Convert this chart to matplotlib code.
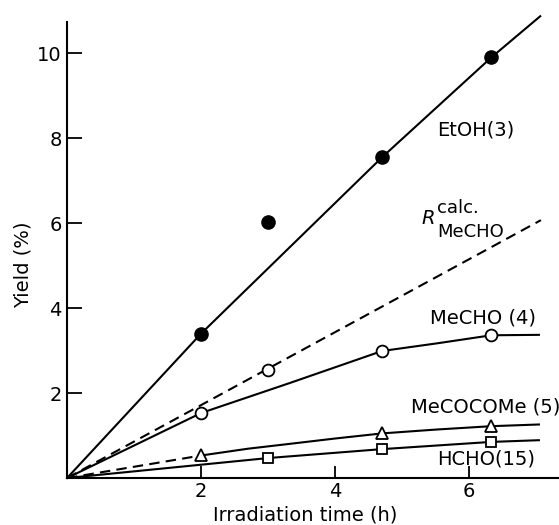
import matplotlib
matplotlib.use("Agg")
import matplotlib.pyplot as plt

# Measured points (irradiation time in h, yield in %)
etoh_x = [2.0, 3.0, 4.7, 6.33]
etoh_y = [3.4, 6.02, 7.55, 9.9]
mecho_x = [2.0, 3.0, 4.7, 6.33]
mecho_y = [1.53, 2.55, 2.99, 3.36]
mecocome_x = [2.0, 4.7, 6.33]
mecocome_y = [0.53, 1.06, 1.22]
hcho_x = [3.0, 4.7, 6.33]
hcho_y = [0.47, 0.68, 0.85]

# Hand-drawn curves
etoh_curve_x = [0, 2.0, 4.7, 6.33, 7.06]
etoh_curve_y = [0, 3.4, 7.55, 9.9, 10.87]
mecho_curve_x = [0, 2.0, 3.33, 4.7, 5.52, 6.33, 7.04]
mecho_curve_y = [0, 1.53, 2.24, 2.99, 3.17, 3.36, 3.37]
calc_x = [0, 7.07]
calc_y = [0, 6.07]
mecocome_dash_x = [0, 2.0]
mecocome_dash_y = [0, 0.53]
mecocome_curve_x = [2.0, 2.7, 3.3, 4.0, 4.7, 5.5, 6.33, 7.04]
mecocome_curve_y = [0.53, 0.69, 0.8, 0.93, 1.05, 1.14, 1.22, 1.26]
hcho_curve_x = [0, 3.0, 4.7, 6.33, 7.04]
hcho_curve_y = [0, 0.47, 0.68, 0.85, 0.89]

xticks = [2, 4, 6]
yticks = [2, 4, 6, 8, 10]

plt.rcParams['font.family'] = ['DejaVu Sans']

fig = plt.figure(figsize=(5.59, 5.25), dpi=100)
ax = fig.add_axes([0.12, 0.0895, 0.88, 0.882])

lw = 1.5
dash = (0, (5, 3))

# curves
ax.plot(etoh_curve_x, etoh_curve_y, color='black', lw=lw, clip_on=False)
ax.plot(mecho_curve_x, mecho_curve_y, color='black', lw=lw)
ax.plot(calc_x, calc_y, color='black', lw=lw, linestyle=dash)
ax.plot(mecocome_dash_x, mecocome_dash_y, color='black', lw=lw, linestyle=dash)
ax.plot(mecocome_curve_x, mecocome_curve_y, color='black', lw=lw)
ax.plot(hcho_curve_x, hcho_curve_y, color='black', lw=lw)

# markers
ax.plot(etoh_x, etoh_y, 'o', ms=9.5, color='black', zorder=5)
ax.plot(mecho_x, mecho_y, 'o', ms=8.5, mfc='white', mec='black', mew=1.3, zorder=5)
ax.plot(mecocome_x, mecocome_y, '^', ms=8.5, mfc='white', mec='black', mew=1.3, zorder=5)
ax.plot(hcho_x, hcho_y, 's', ms=7.5, mfc='white', mec='black', mew=1.3, zorder=5)

# labels on the curves
fs = 14
ax.text(5.52, 8.19, 'EtOH(3)', fontsize=fs, va='center', ha='left')
ax.text(5.39, 6.12, 'R', fontsize=fs, style='italic', va='center', ha='center')
ax.text(5.52, 6.35, 'calc.', fontsize=13, va='center', ha='left')
ax.text(5.52, 5.79, 'MeCHO', fontsize=13, va='center', ha='left')
ax.text(5.42, 3.76, 'MeCHO (4)', fontsize=fs, va='center', ha='left')
ax.text(5.13, 1.67, 'MeCOCOMe (5)', fontsize=fs, va='center', ha='left')
ax.text(5.52, 0.45, 'HCHO(15)', fontsize=fs, va='center', ha='left')

ax.set_xlim(0, 7.34)
ax.set_ylim(0, 10.9)
ax.set_xticks(xticks)
ax.set_yticks(yticks)

ax.spines['top'].set_visible(False)
ax.spines['right'].set_visible(False)
ax.spines['left'].set_bounds(0, 10.73)
for s in ['left', 'bottom']:
    ax.spines[s].set_linewidth(1.5)

ax.tick_params(axis='y', direction='in', length=11, width=1.3, labelsize=14, pad=4)
ax.tick_params(axis='x', direction='in', length=9, width=1.3, labelsize=14, pad=3)

ax.set_xlabel('Irradiation time (h)', fontsize=14)
ax.set_ylabel('Yield (%)', fontsize=14)
ax.xaxis.set_label_coords(0.484, -0.06)
ax.yaxis.set_label_coords(-0.07, 0.46)

fig.savefig('out.png', dpi=100)
